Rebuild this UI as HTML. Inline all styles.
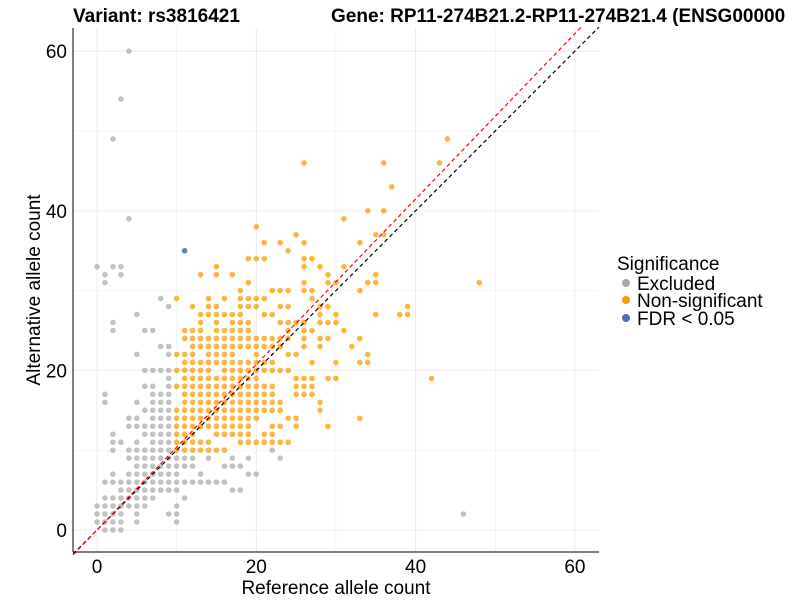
<!DOCTYPE html>
<html><head><meta charset="utf-8"><style>
body{margin:0;background:#fff;width:800px;height:600px;overflow:hidden;font-family:"Liberation Sans",sans-serif}
</style></head><body>
<svg id="chart" width="800" height="600" xmlns="http://www.w3.org/2000/svg">
<text x="73" y="22" font-size="19" font-weight="bold">Variant: rs3816421</text>
<text x="331" y="22" font-size="19" font-weight="bold">Gene: RP11-274B21.2-RP11-274B21.4 (ENSG00000</text>
<g id="grid"></g>
<g id="pts"></g>
<g id="lines"></g>
<line x1="73" y1="28" x2="73" y2="552" stroke="#000" stroke-width="1"/>
<line x1="73" y1="552" x2="599" y2="552" stroke="#000" stroke-width="1"/>
<g id="ticks" font-size="19" fill="#000"></g>
<text x="336" y="594" font-size="19" text-anchor="middle">Reference allele count</text>
<text transform="translate(40,290) rotate(-90)" font-size="19" text-anchor="middle">Alternative allele count</text>
<g font-size="19">
<text x="617" y="270">Significance</text>
<circle cx="626" cy="283" r="4" fill="#aaaaaa"/>
<text x="637" y="290">Excluded</text>
<circle cx="626" cy="300" r="4" fill="#ff9900"/>
<text x="637" y="307">Non-significant</text>
<circle cx="626" cy="318" r="4" fill="#4a74aa"/>
<text x="637" y="325">FDR &lt; 0.05</text>
</g>
</svg>
<script>
const xTicks=[0,20,40,60];
const yTicks=[0,20,40,60];
// orange (non-significant): [y, [x values]]
const orangeRows=[
[49,[44]],[46,[26,36,43]],[43,[37]],[40,[34,36]],[39,[31]],
[38,[20]],[37,[25,35,36]],[36,[21,23,26,33]],[35,[24]],[34,[19,20,21,26,27]],[33,[15,26,28,31]],
[32,[13,15,17,29,35]],[31,[19,26,29,30,34,35,48]],[30,[18,22,23,24,26,27,33]],
[29,[10,14,16,18,19,20,21,27]],[28,[12,14,15,18,19,20,23,24,28,29,39]],
[27,[13,14,15,16,17,18,21,22,28,30,35,38,39]],[26,[13,15,17,18,19,23,24,25,26,28,29,30]],
[25,[11,12,13,15,16,17,18,19,24,26,27,31]],
[24,[11,12,13,14,15,16,17,18,19,20,21,22,23,24,26,28,29,33]],
[23,[12,13,14,15,16,17,18,19,20,21,22,23,26,28,32]],
[22,[10,11,12,14,15,16,17,20,24,25,34]],
[21,[11,12,13,14,15,16,17,18,19,20,21,22,27,30,33,34]],
[20,[10,11,12,13,14,16,17,18,19,20,21,22,23,24]],
[19,[11,12,13,14,15,16,17,18,19,20,25,26,27,29,30,42]],
[18,[10,11,12,13,14,15,16,17,18,19,20,21,22,25,26,27]],
[17,[11,12,13,14,15,16,17,18,19,20,21,22,25,26,27]],
[16,[11,12,13,14,15,16,17,18,19,20,21,22,23,28]],
[15,[10,11,12,13,14,15,16,17,18,19,20,21,22,23,28]],
[14,[10,11,12,13,14,15,16,17,18,19,20,24,25,33]],
[13,[10,11,12,13,14,15,16,17,18,19,22,23,25,29]],
[12,[10,11,12,15,16,17,18,19,21,22]],
[11,[10,11,12,13,14,18,19,20,21,22,23,24]],
[10,[10,11,12,13,14,15,16]]
];
// gray (excluded)
const grayRows=[
[60,[4]],[54,[3]],[49,[2]],[39,[4]],[33,[0,2,3]],[32,[1,3]],[31,[1]],
[29,[8]],[28,[9]],[27,[5]],[26,[2]],[25,[2,6,7]],[23,[8,9]],[22,[5,9]],
[20,[6,7,8,9]],[19,[9]],[18,[6,7,9]],[17,[1,7,8,9]],[16,[1,5,7,8,9]],
[15,[6,7,8,9]],[14,[4,5,7,8,9]],[13,[4,5,6,7,8,9]],[12,[2,6,7,8,9]],
[11,[2,3,5,7,8,9]],[10,[2,4,5,6,7,8,9,22]],
[9,[4,5,6,7,8,9,10,11,12,14,17,19,23]],[8,[5,6,7,8,9,10,11,12,16,17,18]],
[7,[2,4,5,6,7,8,9,10,13,19,20]],[6,[1,2,3,4,5,6,7,8,9,10,11,12,13,14,15,16]],
[5,[3,4,5,6,7,8,9,10,17,18]],[4,[1,2,3,4,5,6,7,11]],[3,[0,1,2,3,4,5,6,10]],
[2,[0,1,2,3,5,9,10,46]],[1,[0,1,2,3,5,10]],[0,[1,2,3]]
];
const blueX=[11];
const blueY=[35];
const sx=v=>97+(v)*7.965;
const sy=v=>530-(v)*7.98;
const NS="http://www.w3.org/2000/svg";
const grid=document.getElementById('grid');
for(let v=-0;v<=60;v+=10){
 const w=(v%20===0)?1:0.5;
 const gl=document.createElementNS(NS,'line');
 gl.setAttribute('x1',sx(v));gl.setAttribute('x2',sx(v));gl.setAttribute('y1',28);gl.setAttribute('y2',552);
 gl.setAttribute('stroke','#ebebeb');gl.setAttribute('stroke-width',w);
 
 
 grid.appendChild(gl);
 const hl=document.createElementNS(NS,'line');
 hl.setAttribute('y1',sy(v));hl.setAttribute('y2',sy(v));hl.setAttribute('x1',73);hl.setAttribute('x2',599);
 hl.setAttribute('stroke','#ebebeb');hl.setAttribute('stroke-width',w);
 
 
 grid.appendChild(hl);
}
const ticks=document.getElementById('ticks');
xTicks.forEach(v=>{
 const t=document.createElementNS(NS,'text');
 t.setAttribute('x',sx(v));t.setAttribute('y',573);t.setAttribute('text-anchor','middle');t.textContent=v;
 
 
 ticks.appendChild(t);
});
yTicks.forEach(v=>{
 const t=document.createElementNS(NS,'text');
 t.setAttribute('x',67);t.setAttribute('y',sy(v)+7);t.setAttribute('text-anchor','end');t.textContent=v;
 
 
 ticks.appendChild(t);
});
const pts=document.getElementById('pts');
function dot(x,y,fill,op,name){
 const c=document.createElementNS(NS,'circle');
 c.setAttribute('cx',sx(x));c.setAttribute('cy',sy(y));c.setAttribute('r',2.8);
 c.setAttribute('fill',fill);c.setAttribute('fill-opacity',op);
 
 
 pts.appendChild(c);
}
grayRows.forEach(([y,xs])=>xs.forEach(x=>dot(x,y,'#a8a8a8',0.7,'excluded-point')));
orangeRows.forEach(([y,xs])=>xs.forEach(x=>dot(x,y,'#ff9900',0.75,'nonsig-point')));
blueX.forEach((x,i)=>dot(x,blueY[i],'#4a74aa',0.9,'fdr-point'));
const lines=document.getElementById('lines');
function dl(x1,y1,x2,y2,col,name){
 const l=document.createElementNS(NS,'line');
 l.setAttribute('x1',sx(x1));l.setAttribute('y1',sy(y1));l.setAttribute('x2',sx(x2));l.setAttribute('y2',sy(y2));
 l.setAttribute('stroke',col);l.setAttribute('stroke-width',1.2);l.setAttribute('stroke-dasharray','4,3');
 
 
 lines.appendChild(l);
}
const slopeRed=1.035;
dl(-3,-3,63,63,'#000','identity-line');
dl(-3,-3*slopeRed,-3+66/slopeRed,63,'#ff0000','fit-line');
</script>
</body></html>
